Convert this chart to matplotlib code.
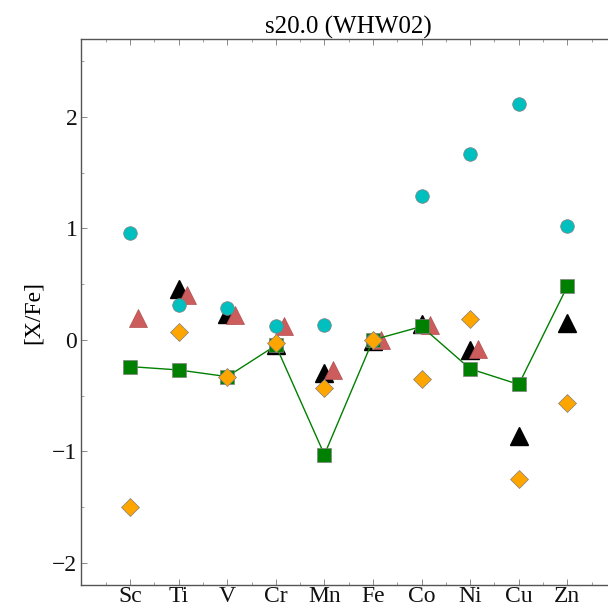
import matplotlib
matplotlib.use('Agg')
import matplotlib.pyplot as plt
import numpy as np
from matplotlib.ticker import MultipleLocator, FixedLocator

elements = ['Sc', 'Ti', 'V', 'Cr', 'Mn', 'Fe', 'Co', 'Ni', 'Cu', 'Zn']
znum = np.arange(21, 31)

# model yields (green squares, joined by a line)
model = [-0.24, -0.27, -0.33, -0.05, -1.03, 0.0, 0.12, -0.26, -0.40, 0.48]
# cyan circles
cyan = [0.96, 0.31, 0.29, 0.12, 0.13, 0.0, 1.29, 1.67, 2.12, 1.02]
# orange diamonds
orange = [-1.50, 0.07, -0.33, -0.03, -0.43, 0.0, -0.35, 0.19, -1.25, -0.57]
# black triangles (Sc missing)
black_z = [22, 23, 24, 25, 26, 27, 28, 29, 30]
black = [0.46, 0.23, -0.05, -0.30, -0.01, 0.14, -0.09, -0.86, 0.15]
# red triangles (Cu, Zn missing)
red_z = [21, 22, 23, 24, 25, 26, 27, 28]
red = [0.20, 0.40, 0.22, 0.12, -0.27, 0.0, 0.13, -0.08]

plt.rcParams['font.family'] = ['Liberation Serif', 'DejaVu Serif']

fig = plt.figure(figsize=(6.08, 6.10), dpi=100)
ax = fig.add_axes([0.134, 0.041, 0.879, 0.895])

ax.plot(black_z, black, ls='none', marker='^', ms=13, color='black', mec='black', zorder=2)
ax.plot(np.array(red_z) + 0.17, red, ls='none', marker='^', ms=13, color='indianred', mec='#b05050', mew=0.5, zorder=3)
ax.plot(znum, model, color='green', lw=1.0, marker='s', ms=9.5, mfc='green', mec='gray', mew=0.5, zorder=4)
ax.plot(znum, cyan, ls='none', marker='o', ms=9.8, color='c', mec='gray', mew=0.5, zorder=5)
ax.plot(znum, orange, ls='none', marker='D', ms=9.3, color='orange', mec='gray', mew=0.5, zorder=6)

ax.set_xlim(20, 31)
ax.set_ylim(-2.2, 2.7)
ax.xaxis.set_major_locator(FixedLocator(znum))
ax.set_xticklabels(elements)
ax.xaxis.set_minor_locator(MultipleLocator(0.5))
ax.yaxis.set_minor_locator(MultipleLocator(0.5))
ax.set_yticks([-2, -1, 0, 1, 2])
ax.set_yticklabels(['\u22122', '\u22121', '0', '1', '2'])

for s in ax.spines.values():
    s.set_color('#555555')
    s.set_linewidth(1.0)
ax.tick_params(which='both', direction='in', top=True, right=True, color='#777777', labelsize=17, labelcolor='#111111')
ax.tick_params(which='major', length=4, width=0.6, pad=3)
ax.tick_params(axis='x', which='major', pad=0.5)
ax.tick_params(which='minor', length=2.5, width=0.5)

ax.set_ylabel('[X/Fe]', fontsize=17, labelpad=6)
ax.set_title('s20.0 (WHW02)', fontsize=18, pad=4)

fig.savefig('out.png', dpi=100)
